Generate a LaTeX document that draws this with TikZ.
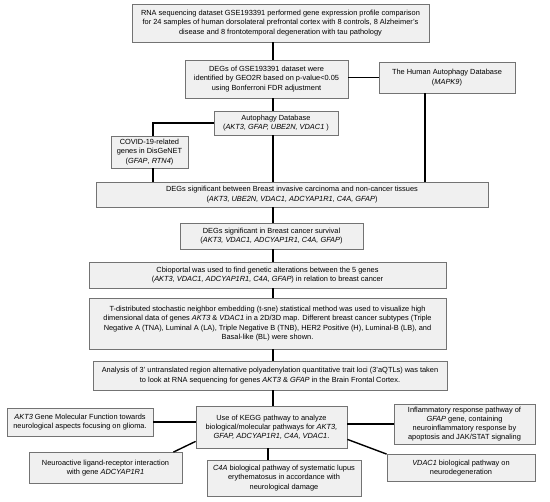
\documentclass[tikz,border=0pt]{standalone}
\usepackage{fontspec}
\setmainfont{Liberation Sans}
\begin{document}
\begin{tikzpicture}[x=1pt,y=-1pt,
  box/.style={draw=black!55, fill=black!6, line width=0.8pt, inner sep=0pt, align=center,
    font=\fontsize{7.4}{9.2}\selectfont},
  conn/.style={draw=black, line width=1.4pt}]
\useasboundingbox (0,0) rectangle (550,502);
\fill[white] (0,0) rectangle (550,502);
% spine coordinates
\coordinate (sp) at (273,0);
\coordinate (sl) at (153,0);
\coordinate (sr) at (425,0);
% boxes
\node[box, minimum width=297, minimum height=38] (b1) at (280.5,23) {RNA sequencing dataset GSE193391 performed gene expression profile comparison\\for 24 samples of human dorsolateral prefrontal cortex with 8 controls, 8 Alzheimer's\\disease and 8 frontotemporal degeneration with tau pathology};
\node[box, minimum width=163, minimum height=38] (geo) at (266.5,79) {DEGs of GSE193391 dataset were\\identified by GEO2R based on p-value<0.05\\using Bonferroni FDR adjustment};
\node[box, minimum width=136, minimum height=31] (hum) at (447,77.5) {The Human Autophagy Database\\(\textit{MAPK9})};
\node[box, minimum width=124, minimum height=24] (aut) at (276,123) {Autophagy Database\\(\textit{AKT3, GFAP, UBE2N, VDAC1} )};
\node[box, minimum width=77, minimum height=32] (cov) at (149.5,152) {COVID-19-related\\genes in DisGeNET\\(\textit{GFAP}, \textit{RTN4})};
\node[box, minimum width=392, minimum height=25] (brc) at (292,194.5) {DEGs significant between Breast invasive carcinoma and non-cancer tissues\\(\textit{AKT3, UBE2N, VDAC1, ADCYAP1R1, C4A, GFAP})};
\node[box, minimum width=183, minimum height=26] (sur) at (271.5,236) {DEGs significant in Breast cancer survival\\(\textit{AKT3, VDAC1, ADCYAP1R1, C4A, GFAP})};
\node[box, minimum width=357, minimum height=26] (cbio) at (267.5,275) {Cbioportal was used to find genetic alterations between the 5 genes\\(\textit{AKT3, VDAC1, ADCYAP1R1, C4A, GFAP}) in relation to breast cancer};
\node[box, minimum width=357, minimum height=51] (tsne) at (267.5,323.5) {T-distributed stochastic neighbor embedding (t-sne) statistical method was used to visualize high\\dimensional data of genes \textit{AKT3} \& \textit{VDAC1} in a 2D/3D map. Different breast cancer subtypes (Triple\\Negative A (TNA), Luminal A (LA), Triple Negative B (TNB), HER2 Positive (H), Luminal-B (LB), and\\Basal-like (BL) were shown.};
\node[box, minimum width=354, minimum height=29] (ana) at (270,375.5) {Analysis of 3' untranslated region alternative polyadenylation quantitative trait loci (3'aQTLs) was taken\\to look at RNA sequencing for genes \textit{AKT3} \& \textit{GFAP} in the Brain Frontal Cortex.};
\node[box, minimum width=151, minimum height=42] (kegg) at (271.5,427) {Use of KEGG pathway to analyze\\biological/molecular pathways for \textit{AKT3,}\\\textit{GFAP, ADCYAP1R1, C4A, VDAC1}.};
\node[box, minimum width=146, minimum height=28] (akt) at (80,422) {\textit{AKT3} Gene Molecular Function towards\\neurological aspects focusing on glioma.};
\node[box, minimum width=141, minimum height=40] (inf) at (464.5,424) {Inflammatory response pathway of\\\textit{GFAP} gene, containing\\neuroinflammatory response  by\\apoptosis and JAK/STAT signaling};
\node[box, minimum width=153, minimum height=31] (neu) at (105.5,468) {Neuroactive ligand-receptor interaction\\with gene \textit{ADCYAP1R1}};
\node[box, minimum width=154, minimum height=36] (c4a) at (284,478) {\textit{C4A} biological pathway of  systematic lupus\\erythematosus in accordance with\\neurological damage};
\node[box, minimum width=148, minimum height=27] (vdac) at (461,468) {\textit{VDAC1} biological pathway on\\neurodegeneration};
% connectors
\draw[conn] (b1.south -| sp) -- (geo.north -| sp);
\draw[conn] (geo.east |- hum.west) -- (hum.west);
\draw[conn] (geo.south -| sp) -- (aut.north -| sp);
\draw[conn] (aut.west) -| (cov.north -| sl);
\draw[conn] (cov.south -| sl) -- (brc.north -| sl);
\draw[conn] (aut.south -| sp) -- (brc.north -| sp);
\draw[conn] (hum.south -| sr) -- (brc.north -| sr);
\draw[conn] (brc.south -| sp) -- (sur.north -| sp);
\draw[conn] (sur.south -| sp) -- (cbio.north -| sp);
\draw[conn] (cbio.south -| sp) -- (tsne.north -| sp);
\draw[conn] (tsne.south -| sp) -- (ana.north -| sp);
\draw[conn] (ana.south -| sp) -- (kegg.north -| sp);
\draw[conn] (akt.east) -- (akt.east -| kegg.west);
\draw[conn] ([yshift=7]kegg.south west) -- ([xshift=-9]neu.north east);
\draw[conn] ([xshift=-3.5]kegg.south) -- ([xshift=-16]c4a.north);
\draw[conn] ([yshift=9]kegg.south east) -- (vdac.north west);
\draw[conn] (kegg.east |- inf.west) -- (inf.west);
\end{tikzpicture}
\end{document}
